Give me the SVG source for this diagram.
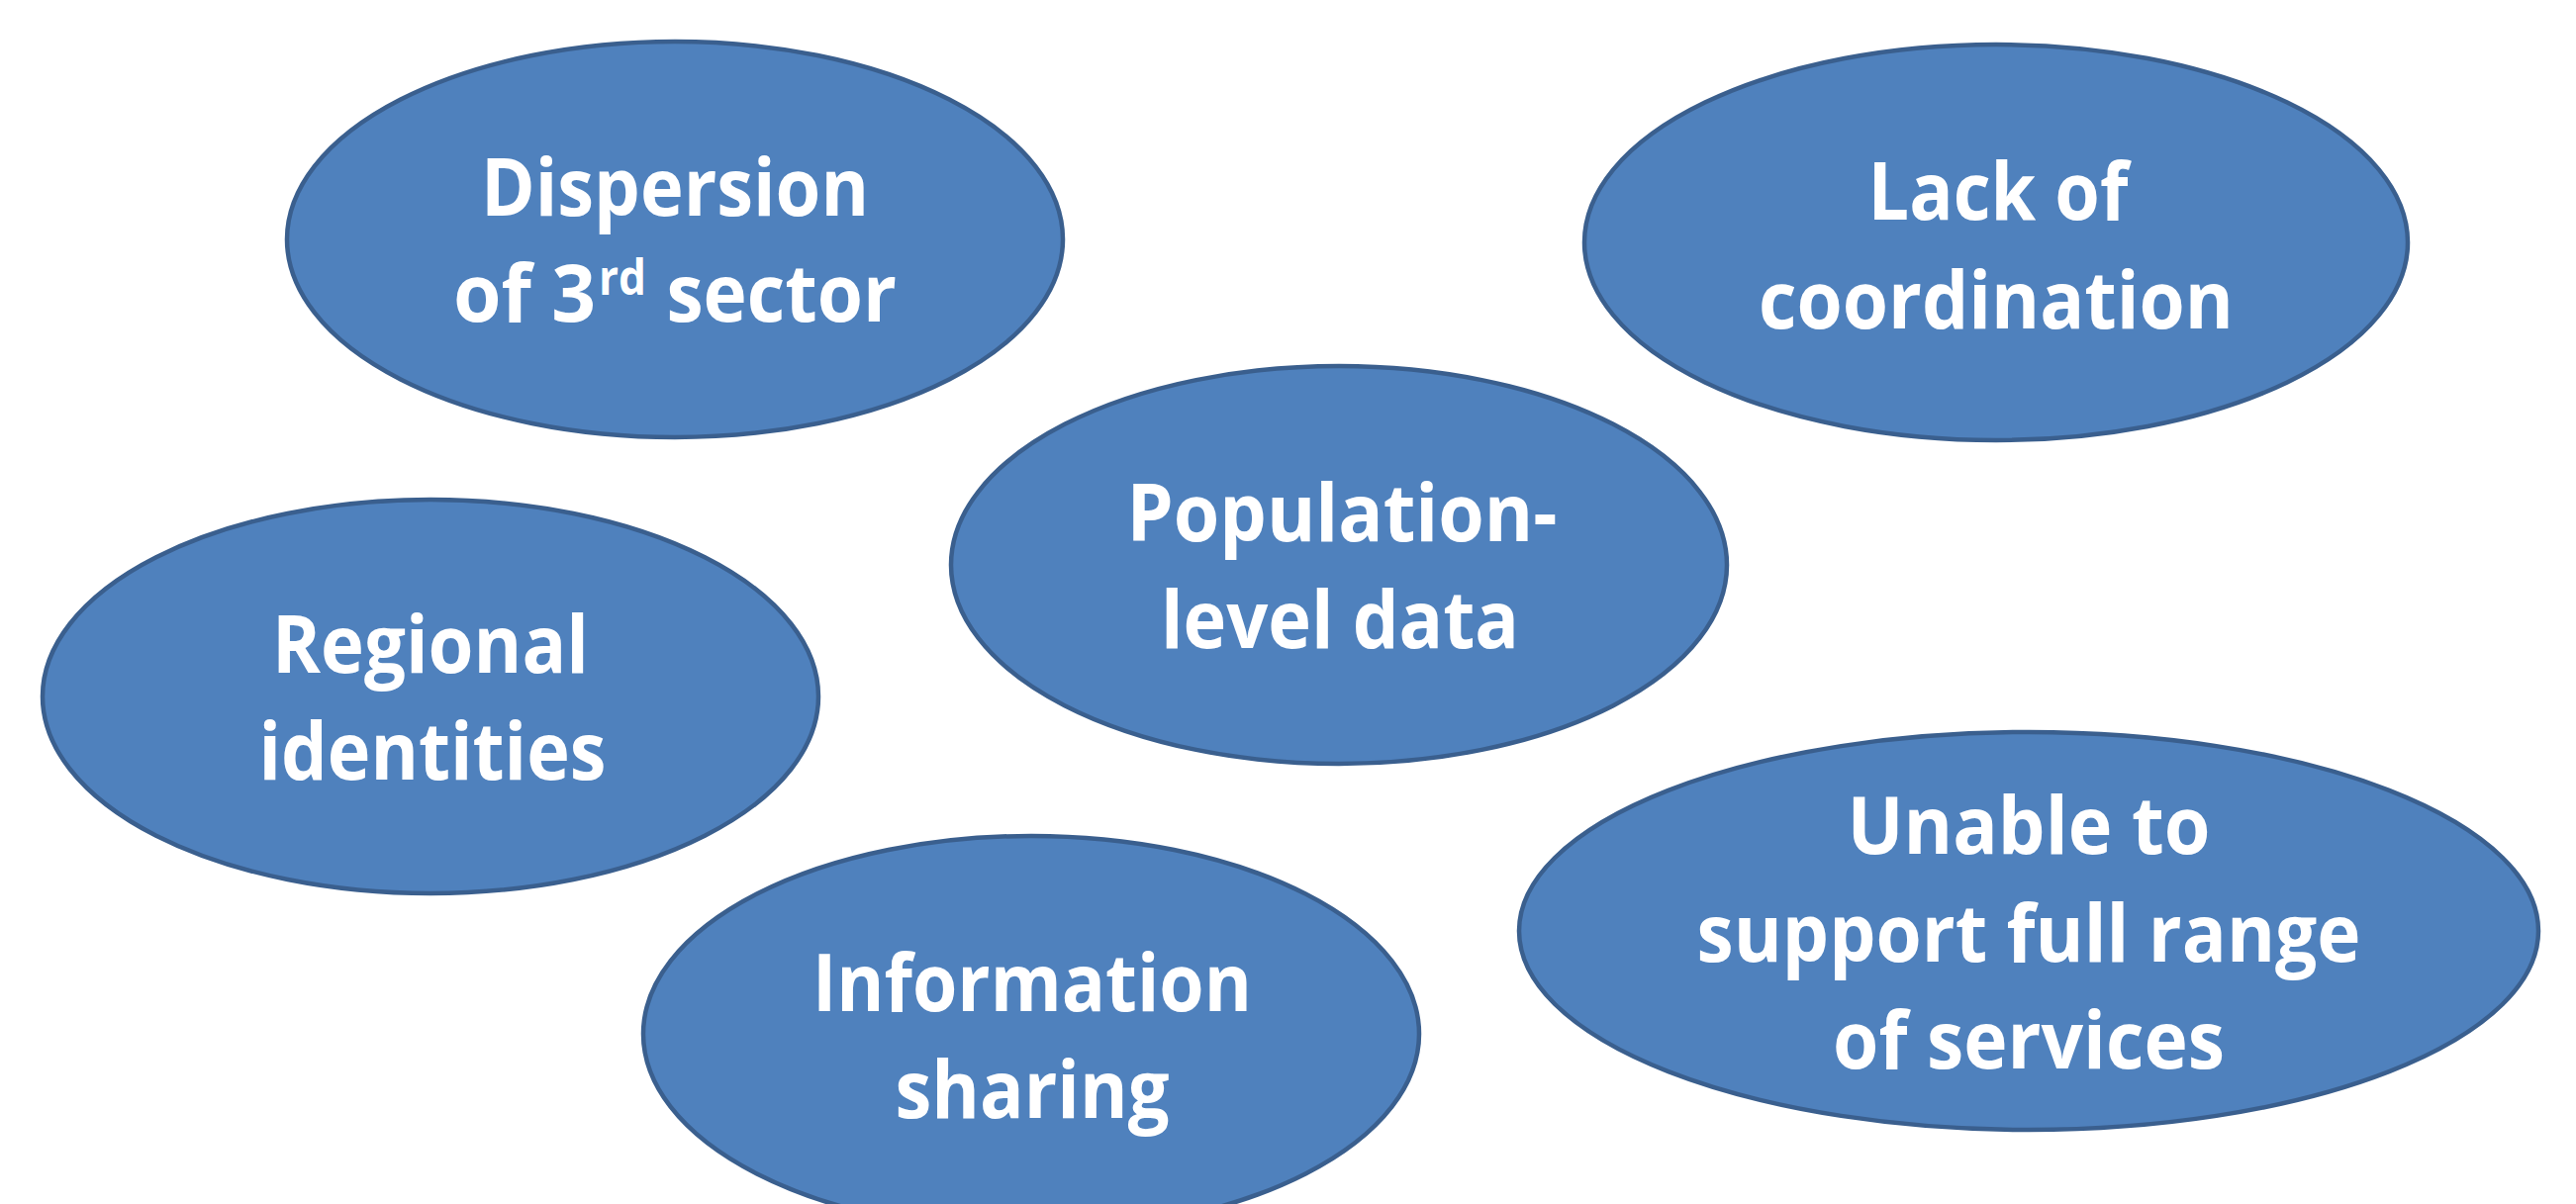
<svg xmlns="http://www.w3.org/2000/svg" width="2603" height="1217" viewBox="0 0 2603 1217">
<style>
.bub{fill:#4f81bd;stroke:#3a5f8e;stroke-width:4.5}
.t{font-family:"Open Sans","Noto Sans","Liberation Sans",sans-serif;font-weight:700;font-size:80px;fill:#ffffff;text-anchor:middle}
.s{font-family:"Open Sans","Noto Sans","Liberation Sans",sans-serif;font-weight:700;fill:#ffffff}
</style>
<rect width="2603" height="1217" fill="#ffffff"/>
<g id="connectors"></g>
<g id="n-dispersion">
<ellipse class="bub" cx="682" cy="242" rx="392" ry="200"/>
<text class="t" x="682" y="218" textLength="392" lengthAdjust="spacingAndGlyphs">Dispersion</text>
<text class="s" font-size="80"><tspan x="458" y="325" textLength="144" lengthAdjust="spacingAndGlyphs">of 3</tspan><tspan x="605" y="298" font-size="50" textLength="48" lengthAdjust="spacingAndGlyphs">rd</tspan><tspan x="654" y="325" textLength="252" lengthAdjust="spacingAndGlyphs"> sector</tspan></text>
</g>
<g id="n-lack">
<ellipse class="bub" cx="2017" cy="245" rx="416" ry="200"/>
<text class="t" x="2019" y="222" textLength="263" lengthAdjust="spacingAndGlyphs">Lack of</text>
<text class="t" x="2017" y="332" textLength="480" lengthAdjust="spacingAndGlyphs">coordination</text>
</g>
<g id="n-population">
<ellipse class="bub" cx="1353" cy="571" rx="392" ry="201"/>
<text class="t" x="1356" y="547" textLength="435" lengthAdjust="spacingAndGlyphs">Population-</text>
<text class="t" x="1354" y="655" textLength="362" lengthAdjust="spacingAndGlyphs">level data</text>
</g>
<g id="n-regional">
<ellipse class="bub" cx="435" cy="704" rx="392" ry="199"/>
<text class="t" x="435" y="680" textLength="320" lengthAdjust="spacingAndGlyphs">Regional</text>
<text class="t" x="437" y="788" textLength="351" lengthAdjust="spacingAndGlyphs">identities</text>
</g>
<g id="n-information">
<ellipse class="bub" cx="1042" cy="1045" rx="392" ry="200"/>
<text class="t" x="1043" y="1022" textLength="444" lengthAdjust="spacingAndGlyphs">Information</text>
<text class="t" x="1043" y="1130" textLength="277" lengthAdjust="spacingAndGlyphs">sharing</text>
</g>
<g id="n-unable">
<ellipse class="bub" cx="2050" cy="941" rx="515" ry="201"/>
<text class="t" x="2050" y="863" textLength="367" lengthAdjust="spacingAndGlyphs">Unable to</text>
<text class="t" x="2050" y="972" textLength="671" lengthAdjust="spacingAndGlyphs">support full range</text>
<text class="t" x="2050" y="1080" textLength="396" lengthAdjust="spacingAndGlyphs">of services</text>
</g>
</svg>
